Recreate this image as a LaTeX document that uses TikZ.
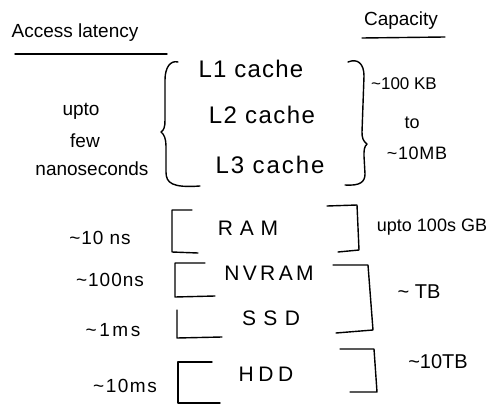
\documentclass[tikz,border=0pt]{standalone}
\usepackage{fontspec}
\setmainfont{Liberation Sans}
\newcommand{\tl}{\textasciitilde}
\begin{document}
\begin{tikzpicture}[x=1pt,y=-1pt,
  line width=1.4pt, line cap=round, line join=round,
  % size and letter spacing of a label
  txt/.style 2 args={inner sep=0pt, anchor=center,
    font=\fontsize{#1}{#1}\selectfont\addfontfeature{LetterSpace=#2}}]
\useasboundingbox (0,0) rectangle (489,406);

% column headings
\node[txt={19}{0}] (lat) at (75,33) {Access latency};
\draw (15,54) -- (167,54);
\node[txt={19}{0}] (cap) at (401,21) {Capacity};
\draw (362,38) -- (445,37);

% cache levels
\node[txt={24}{5}] (l1) at (251,69) {L1 cache};
\node[txt={24}{6}] (l2) at (262,115) {L2 cache};
\node[txt={24}{8}] (l3) at (270,165) {L3 cache};

% left brace around the caches
\draw (178,62) .. controls (170,60) and (165,68) .. (165,80)
  -- (165,120) .. controls (165,127) and (164,130) .. (161,132)
  .. controls (164,134) and (166,139) .. (166,146)
  -- (166,172) .. controls (166,183) and (172,188) .. (200,186);
% right brace around the caches
\draw (348,62) .. controls (358,58) and (364,64) .. (364,76)
  -- (362,132) .. controls (362,138) and (363,141) .. (367,144)
  .. controls (364,147) and (364,150) .. (364,156)
  -- (365,174) .. controls (365,182) and (360,186) .. (345,185);

\node[txt={19}{0}] (upto) at (81,111) {upto};
\node[txt={19}{0}] (few) at (85,141) {few};
\node[txt={19}{0}] (nano) at (92,169) {nanoseconds};

\node[txt={17}{0}] (kb) at (404,84) {\tl 100 KB};
\node[txt={18}{0}] (to) at (412,123) {to};
\node[txt={18}{4}] (mb) at (417,153) {\tl 10MB};

% memory and storage tiers
\node[txt={21}{32}] (ram) at (248,228) {RAM};
\node[txt={21}{16}] (nvram) at (269,273) {NVRAM};
\node[txt={21}{35}] (ssd) at (271,318) {SSD};
\node[txt={21}{22}] (hdd) at (266,374) {HDD};

% left brackets
\draw (192,210) -- (172,210) -- (172,252) -- (198,253);
\draw (205,263) -- (175,263) -- (175,297) -- (215,296);
\draw (177,310) -- (177,338) -- (222,337);
\draw (212,362) -- (178,362) -- (178,403) -- (220,403);

% right brackets
\draw (327,206) -- (357,205) -- (359,250) -- (338,252);
\draw (333,265) -- (368,265) -- (373,330) -- (336,333);
\draw (340,349) -- (374,349) -- (377,392) -- (350,392);

% latencies
\node[txt={19}{5}] (ns10) at (100,238) {\tl 10 ns};
\node[txt={19}{5}] (ns100) at (110,280) {\tl 100ns};
\node[txt={19}{14}] (ms1) at (113,330) {\tl 1ms};
\node[txt={19}{8}] (ms10) at (125,386) {\tl 10ms};

% capacities
\node[txt={18}{0}] (gb) at (432,227) {upto 100s GB};
\node[txt={20}{0}] (tb) at (419,292) {\tl\ TB};
\node[txt={20}{0}] (tb10) at (438,362) {\tl 10TB};
\end{tikzpicture}
\end{document}
